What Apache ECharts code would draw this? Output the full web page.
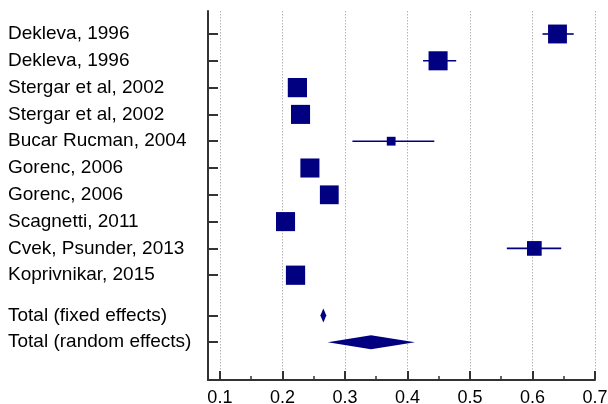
<!DOCTYPE html>
<html>
<head>
<meta charset="utf-8">
<script src="https://cdn.jsdelivr.net/npm/echarts@6/dist/echarts.min.js"></script>
<style>html,body{margin:0;padding:0;background:#fff}#c{width:608px;height:404px}</style>
</head>
<body>
<div id="c"></div>
<script>
var studies = ["Dekleva, 1996","Dekleva, 1996","Stergar et al, 2002","Stergar et al, 2002","Bucar Rucman, 2004","Gorenc, 2006","Gorenc, 2006","Scagnetti, 2011","Cvek, Psunder, 2013","Koprivnikar, 2015"];
var est    = [0.640, 0.449, 0.224, 0.229, 0.374, 0.244, 0.275, 0.205, 0.603, 0.221];
var lower  = [0.616, 0.425, 0.214, 0.219, 0.312, 0.234, 0.265, 0.195, 0.559, 0.211];
var upper  = [0.666, 0.478, 0.234, 0.239, 0.443, 0.254, 0.285, 0.215, 0.646, 0.231];
var weights= [10.6, 10.8, 11.0, 10.8, 2.3, 10.8, 10.5, 10.8, 6.4, 11.0];
var totalNames = ["Total (fixed effects)", "Total (random effects)"];
var totalEst   = [0.2655, 0.3417];
var totalLower = [0.2607, 0.2725];
var totalUpper = [0.2703, 0.4120];
var xTicks = [0.1, 0.2, 0.3, 0.4, 0.5, 0.6, 0.7];
var xMinorTicks = [0.15, 0.25, 0.35, 0.45, 0.55, 0.65];

var navy = '#000080';
var rowPos = studies.map(function(_, i){ return i + 1; });
var totalPos = totalNames.map(function(_, j){ return studies.length + 1.5 + j; });
var yTickVals = rowPos.concat(totalPos);
var yLabelMap = {};
studies.forEach(function(s, i){ yLabelMap[rowPos[i]] = s; });
totalNames.forEach(function(s, j){ yLabelMap[totalPos[j]] = s; });

var studyData = studies.map(function(s, i){ return [est[i], rowPos[i], lower[i], upper[i], weights[i]]; });
var totalData = totalNames.map(function(s, j){ return [totalEst[j], totalPos[j], totalLower[j], totalUpper[j]]; });

var chart = echarts.init(document.getElementById('c'), null, {renderer: 'canvas'});
var axisColor = '#333';
var font = 'Liberation Sans, Arial, Helvetica, sans-serif';
chart.setOption({
  animation: false,
  backgroundColor: '#fff',
  grid: {left: 208, right: 13, top: 11, bottom: 24, outerBoundsMode: 'none', containLabel: false},
  xAxis: [{
    type: 'value', min: 0.081, max: 0.7, position: 'bottom',
    axisLine: {show: true, lineStyle: {color: axisColor, width: 2}},
    axisTick: {show: true, inside: true, length: 9, customValues: xTicks, lineStyle: {color: axisColor, width: 2}},
    axisLabel: {show: true, customValues: xTicks, margin: 9, fontSize: 18, color: '#000', fontFamily: font,
      formatter: function(v){ return (Math.round(v*10)/10).toFixed(1); }},
    splitLine: {show: true, lineStyle: {color: '#b5b5b5', type: [1.5, 1.5], width: 1}}
  }, {
    type: 'value', min: 0.081, max: 0.7, position: 'bottom',
    axisLine: {show: false},
    axisTick: {show: true, inside: true, length: 4, customValues: xMinorTicks, lineStyle: {color: axisColor, width: 1.5}},
    axisLabel: {show: false},
    splitLine: {show: false}
  }],
  yAxis: {
    type: 'value', inverse: true, min: 0.142, max: 13.91,
    axisLine: {show: true, lineStyle: {color: axisColor, width: 2}},
    axisTick: {show: true, inside: true, length: 10, customValues: yTickVals, lineStyle: {color: axisColor, width: 2}},
    axisLabel: {show: true, customValues: yTickVals, align: 'left', margin: 200, fontSize: 19, color: '#000',
      fontFamily: font,
      formatter: function(v){ return yLabelMap[v] || ''; }},
    splitLine: {show: false}
  },
  series: [{
    type: 'custom', xAxisIndex: 0, data: studyData, silent: true,
    renderItem: function(params, api){
      var c = api.coord([api.value(0), api.value(1)]);
      var l = api.coord([api.value(2), api.value(1)]);
      var h = api.coord([api.value(3), api.value(1)]);
      var s = 5.8 * Math.sqrt(api.value(4));
      return {type: 'group', children: [
        {type: 'line', shape: {x1: l[0], y1: l[1], x2: h[0], y2: h[1]}, style: {stroke: navy, lineWidth: 1.6}},
        {type: 'rect', shape: {x: c[0] - s/2, y: c[1] - s/2, width: s, height: s}, style: {fill: navy}}
      ]};
    }
  }, {
    type: 'custom', xAxisIndex: 0, data: totalData, silent: true,
    renderItem: function(params, api){
      var c = api.coord([api.value(0), api.value(1)]);
      var l = api.coord([api.value(2), api.value(1)]);
      var h = api.coord([api.value(3), api.value(1)]);
      var hh = 7;
      return {type: 'polygon', shape: {points: [[l[0], c[1]], [c[0], c[1]-hh], [h[0], c[1]], [c[0], c[1]+hh]]}, style: {fill: navy}};
    }
  }]
});
</script>
</body>
</html>
